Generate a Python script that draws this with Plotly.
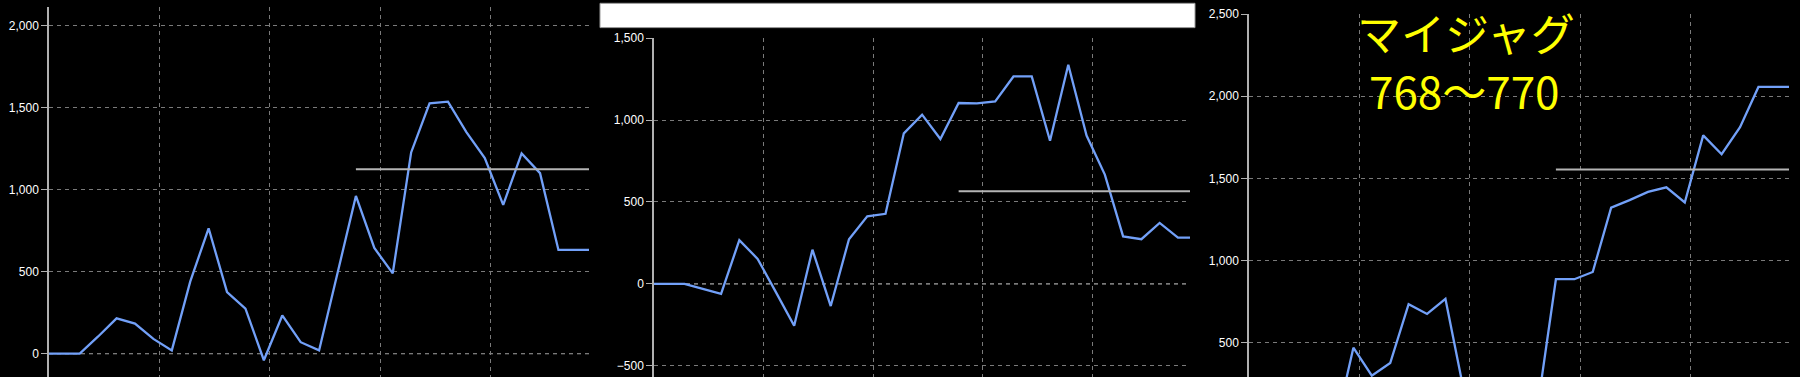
import plotly.graph_objects as go

# ---- data ----
X_START = 0.0          # left edge of each session axis
X_END = 29.33          # right edge of each session axis
FIRST_STEP = 1.67      # position of first sample

P1_VALUES = [0, 105, 215, 183, 90, 20, 439, 764, 375, 275, -40, 233, 70, 20,
             490, 961, 644, 489, 1226, 1525, 1535, 1350, 1192, 907, 1220, 1100, 632]
P2_VALUES = [0, -30, -60, 267, 153, -50, -255, 209, -135, 273, 412, 428, 919, 1033,
             884, 1104, 1102, 1114, 1266, 1266, 874, 1337, 905, 667, 290, 273, 372, 283]
P3_VALUES = [0, -50, 120, -27, 468, 297, 374, 733, 673, 765, 204, 100, 40, 150,
             103, 885, 885, 929, 1321, 1367, 1417, 1445, 1353, 1762, 1647, 1812, 2057]

AVG_VALUES = [1123, 565, 1553]
AVG_START_INDEX = 15

Y_RANGES = [[-142, 2112], [-568, 1500], [289, 2500.5]]
TITLE_LINE1 = "マイジャグ"
TITLE_LINE2 = "768～770"

# ---- styling ----
LINE_COLOR = "#72a0f8"
AVG_COLOR = "#b4b4b4"
GRID_COLOR = "#7a7a7a"
ZERO_COLOR = "#d8d8d8"
AXIS_COLOR = "#b0b0b0"

X_DOMAINS = [[49 / 1800, 589 / 1800], [654 / 1800, 1190 / 1800], [1249 / 1800, 1789 / 1800]]
Y_DOMAINS = [[0, 1], [0, 1 - 31.7 / 377], [0, 1 - 7.3 / 377]]

fig = go.Figure()

series = [P1_VALUES, P2_VALUES, P3_VALUES]
for i, vals in enumerate(series):
    n = i + 1
    xs = [X_START] + [FIRST_STEP + j for j in range(len(vals))] + [X_END]
    ys = [vals[0]] + vals + [vals[-1]]
    xa = "x" if n == 1 else f"x{n}"
    ya = "y" if n == 1 else f"y{n}"
    fig.add_trace(go.Scatter(x=xs, y=ys, mode="lines",
                             line=dict(color=LINE_COLOR, width=2.3),
                             xaxis=xa, yaxis=ya, showlegend=False, hoverinfo="skip"))
    ax = xs[AVG_START_INDEX + 1:]
    fig.add_trace(go.Scatter(x=ax, y=[AVG_VALUES[i]] * len(ax), mode="lines",
                             line=dict(color=AVG_COLOR, width=2),
                             xaxis=xa, yaxis=ya, showlegend=False, hoverinfo="skip"))

    xkey = "xaxis" if n == 1 else f"xaxis{n}"
    ykey = "yaxis" if n == 1 else f"yaxis{n}"
    fig.update_layout(**{
        xkey: dict(domain=X_DOMAINS[i], anchor=ya, range=[X_START, X_END],
                   tick0=0, dtick=6, showticklabels=False, ticks="",
                   showgrid=True, gridcolor=GRID_COLOR, griddash="4px,4px", gridwidth=1,
                   zeroline=False, showline=False, fixedrange=True),
        ykey: dict(domain=Y_DOMAINS[i], anchor=xa, range=Y_RANGES[i],
                   tick0=0, dtick=500, tickformat=",",
                   showgrid=True, gridcolor=GRID_COLOR, griddash="4px,4px", gridwidth=1,
                   zeroline=False, showline=True, linecolor=AXIS_COLOR, linewidth=1.5,
                   ticks="outside", ticklen=6, tickcolor=AXIS_COLOR, tickwidth=1,
                   tickfont=dict(family="Liberation Sans, Arial, sans-serif", size=12, color="#ffffff"),
                   fixedrange=True),
    })
    if Y_RANGES[i][0] < 0 < Y_RANGES[i][1]:
        fig.add_shape(type="line", xref=f"{xa} domain", yref=ya, x0=0, x1=1, y0=0, y1=0,
                      line=dict(color=ZERO_COLOR, width=1, dash="4px,4px"), layer="below")

# white header strip above the middle chart
fig.add_shape(type="rect", xref="paper", yref="paper",
              x0=600 / 1800, x1=1195 / 1800, y0=1 - 21 / 377, y1=1.01,
              fillcolor="#ffffff", line=dict(color="#9a9a9a", width=1))

fig.add_annotation(text=TITLE_LINE1, xref="paper", yref="paper",
                   x=1466 / 1800, y=1 - 25 / 377, xanchor="center", yanchor="middle",
                   showarrow=False,
                   font=dict(family="Noto Sans CJK JP", size=44, color="#ffff00"))
fig.add_annotation(text=TITLE_LINE2, xref="paper", yref="paper",
                   x=1464 / 1800, y=1 - 85 / 377, xanchor="center", yanchor="middle",
                   showarrow=False,
                   font=dict(family="Noto Sans CJK JP", size=44, color="#ffff00"))

fig.update_layout(width=1800, height=377, margin=dict(l=0, r=0, t=0, b=0),
                  paper_bgcolor="#000000", plot_bgcolor="#000000", showlegend=False)

fig.write_html("out.html", config={"displayModeBar": False})
